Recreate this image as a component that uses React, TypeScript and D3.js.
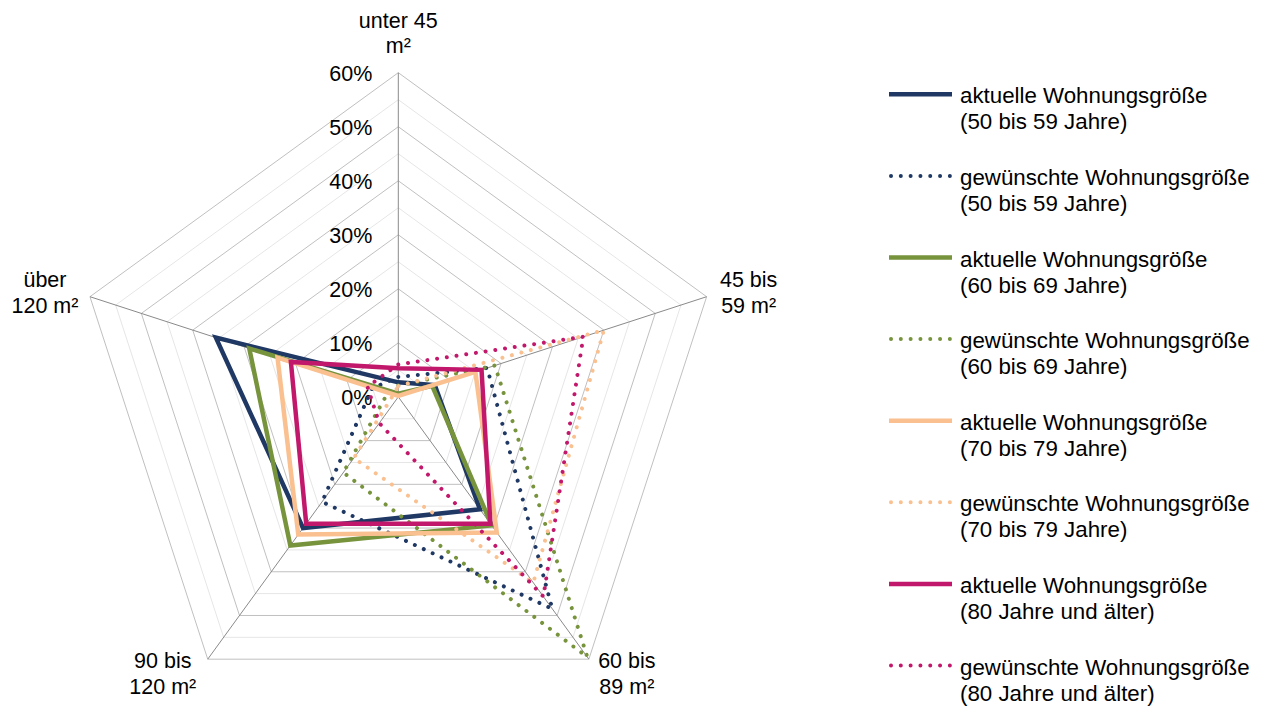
import React from "react";
import * as d3 from "d3";

// ---- data ----
const categories = ["unter 45 m²", "45 bis 59 m²", "60 bis 89 m²", "90 bis 120 m²", "über 120 m²"];
const categoryLines = [
  ["unter 45", "m²"],
  ["45 bis", "59 m²"],
  ["60 bis", "89 m²"],
  ["90 bis", "120 m²"],
  ["über", "120 m²"],
];
const tickValues = [0, 10, 20, 30, 40, 50, 60];

const aktuell5059 = [2.7, 7.1, 25.7, 30, 35.5];
const gewuenscht5059 = [3.7, 17.3, 48.5, 24, 5.1];
const aktuell6069 = [0.6, 6.6, 29.4, 34, 29];
const gewuenscht6069 = [2.1, 18.8, 59.5, 17.3, 2.1];
const aktuell7079 = [0.2, 15, 31, 31.5, 23.5];
const gewuenscht7079 = [2, 40, 42.5, 14, 1];
const aktuell80 = [5.3, 16.2, 29, 29, 20.9];
const gewuenscht80 = [6, 36, 45.7, 6, 6];

const seriesNames = [
  ["aktuelle Wohnungsgröße", "(50 bis 59 Jahre)"],
  ["gewünschte Wohnungsgröße", "(50 bis 59 Jahre)"],
  ["aktuelle Wohnungsgröße", "(60 bis 69 Jahre)"],
  ["gewünschte Wohnungsgröße", "(60 bis 69 Jahre)"],
  ["aktuelle Wohnungsgröße", "(70 bis 79 Jahre)"],
  ["gewünschte Wohnungsgröße", "(70 bis 79 Jahre)"],
  ["aktuelle Wohnungsgröße", "(80 Jahre und älter)"],
  ["gewünschte Wohnungsgröße", "(80 Jahre und älter)"],
];
const seriesValues = [
  aktuell5059, gewuenscht5059, aktuell6069, gewuenscht6069,
  aktuell7079, gewuenscht7079, aktuell80, gewuenscht80,
];
const seriesColors = ["#1f3864", "#1f3864", "#77933c", "#77933c", "#fac08f", "#fac08f", "#c2186b", "#c2186b"];
const seriesDotted = [false, true, false, true, false, true, false, true];

// ---- layout ----
const W = 1263;
const H = 706;
const cx = 398.3;
const cy = 396.9;
const R = 324.2;
const FONT = "'Liberation Sans', Arial, sans-serif";

export default function App() {
  const n = categories.length;
  const rScale = d3.scaleLinear().domain([0, 60]).range([0, R]);
  const angle = (i: number) => (i * 2 * Math.PI) / n;

  const radial = d3
    .lineRadial<number>()
    .angle((_d, i) => angle(i))
    .radius((d) => rScale(d))
    .curve(d3.curveLinearClosed);

  const gridLevels = d3.range(5, 61, 5);
  const pt = (i: number, v: number) => {
    const a = angle(i);
    const r = rScale(v);
    return [r * Math.sin(a), -r * Math.cos(a)];
  };

  // axis label positions relative to outer vertex
  const labelOffsets = [
    { dx: 0, dy: [-45, -20] },
    { dx: 42, dy: [-10, 16] },
    { dx: 38, dy: [9, 35] },
    { dx: -45, dy: [9, 35] },
    { dx: -45, dy: [-10, 16] },
  ];

  const legendX1 = 889;
  const legendX2 = 952;
  const legendY0 = 94.3;
  const legendStep = 81.6;

  return (
    <svg
      width={W}
      height={H}
      style={{ position: "absolute", left: 0, top: 0, background: "#fff" }}
      fontFamily={FONT}
    >
      <g transform={`translate(${cx},${cy})`}>
        {gridLevels
          .filter((v) => v % 10 !== 0)
          .map((v) => (
            <path key={"m" + v} d={radial(categories.map(() => v)) || ""} fill="none" stroke="#e6e6e6" strokeWidth={1} />
          ))}
        {gridLevels
          .filter((v) => v % 10 === 0)
          .map((v) => (
            <path key={"M" + v} d={radial(categories.map(() => v)) || ""} fill="none" stroke="#c0c0c0" strokeWidth={1} />
          ))}
        {categories.map((c, i) => {
          const [x, y] = pt(i, 60);
          return <line key={c} x1={0} y1={0} x2={x} y2={y} stroke="#8a8a8a" strokeWidth={1} />;
        })}
        {tickValues.map((t) => (
          <text key={t} x={-26} y={-rScale(t)} dy="0.37em" textAnchor="end" fontSize={21.5} fill="#000">
            {t}%
          </text>
        ))}
        {seriesValues.map((vals, si) => (
          <path
            key={"s" + si}
            d={radial(vals) || ""}
            fill="none"
            stroke={seriesColors[si]}
            strokeWidth={seriesDotted[si] ? 4 : 4.5}
            strokeDasharray={seriesDotted[si] ? "0.01 9.8" : undefined}
            strokeLinecap={seriesDotted[si] ? "round" : "butt"}
            strokeLinejoin="miter"
          />
        ))}
        {categoryLines.map((lines, i) => {
          const [x, y] = pt(i, 60);
          const off = labelOffsets[i];
          return (
            <text key={"l" + i} textAnchor="middle" fontSize={21.5} fill="#000">
              {lines.map((ln, k) => (
                <tspan key={k} x={x + off.dx} y={y + off.dy[k]}>
                  {ln}
                </tspan>
              ))}
            </text>
          );
        })}
      </g>
      <g>
        {seriesNames.map((nm, si) => {
          const y = legendY0 + si * legendStep;
          return (
            <g key={"lg" + si}>
              <line
                x1={legendX1 + (seriesDotted[si] ? 2 : 0)}
                x2={legendX2}
                y1={y}
                y2={y}
                stroke={seriesColors[si]}
                strokeWidth={seriesDotted[si] ? 4 : 4.5}
                strokeDasharray={seriesDotted[si] ? "0.01 9.8" : undefined}
                strokeLinecap={seriesDotted[si] ? "round" : "butt"}
              />
              <text x={960} y={y + 9} fontSize={22.3} fill="#000">
                {nm[0]}
              </text>
              <text x={960} y={y + 35} fontSize={22.3} fill="#000">
                {nm[1]}
              </text>
            </g>
          );
        })}
      </g>
    </svg>
  );
}
